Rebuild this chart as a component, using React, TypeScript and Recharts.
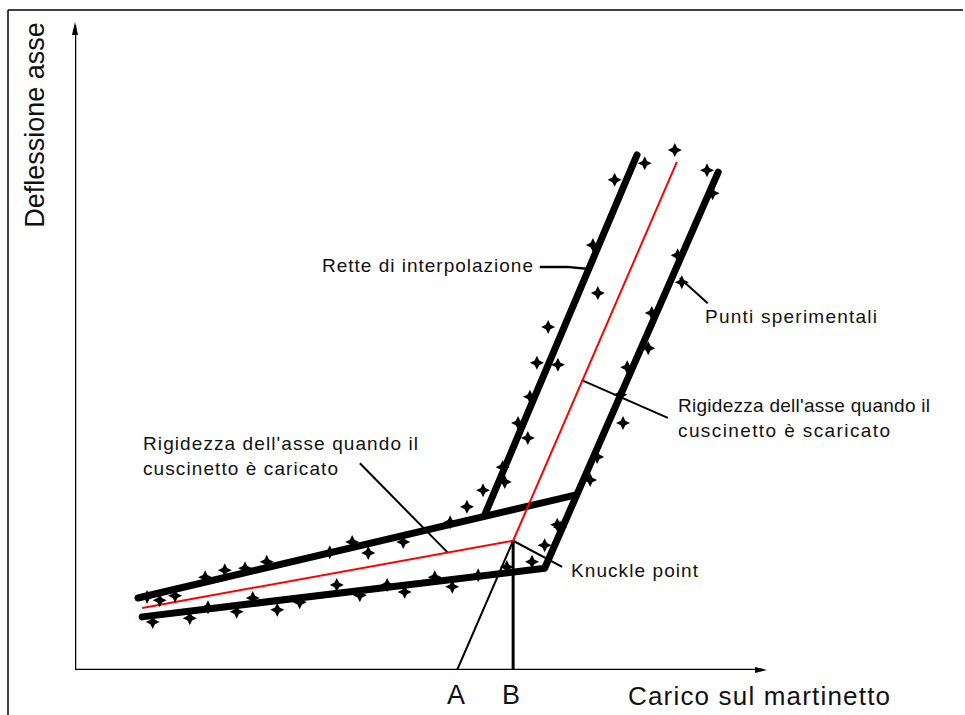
import { ComposedChart, Line, Scatter, XAxis, YAxis, Customized } from "recharts";

// load on the jack (x) vs shaft deflection (y), arbitrary units
const X_MAX = 98.3;
const Y_MAX = 100.8;

const upperBranch = [
  { x: 9.0, y: 11.25 },
  { x: 71.3, y: 27.3 },
];
const upperSteep = [
  { x: 58.6, y: 24.4 },
  { x: 80.3, y: 80.5 },
];
const lowerBranch = [
  { x: 9.6, y: 8.3 },
  { x: 67.1, y: 15.9 },
  { x: 91.9, y: 77.8 },
];
const meanLine = [
  { x: 9.6, y: 9.7 },
  { x: 62.6, y: 20.2 },
  { x: 86.0, y: 79.4 },
];
const lineA = [
  { x: 62.6, y: 20.2 },
  { x: 54.6, y: 0 },
];
const lineB = [
  { x: 62.6, y: 20.2 },
  { x: 62.6, y: 0 },
];
const xAxisLine = [
  { x: 0, y: 0 },
  { x: X_MAX, y: 0 },
];
const yAxisLine = [
  { x: 0, y: 0 },
  { x: 0, y: Y_MAX },
];

// leaders from the notes to the lines
const knuckleLeader = [
  { x: 62.6, y: 20.2 },
  { x: 69.6, y: 16.1 },
];
const caricatoLeader = [
  { x: 40.7, y: 32.3 },
  { x: 53.3, y: 18.3 },
];
const interpLeader = [
  { x: 66.4, y: 63.0 },
  { x: 70.3, y: 63.0 },
  { x: 73.1, y: 62.7 },
];
const puntiLeader = [
  { x: 86.4, y: 61.25 },
  { x: 90.4, y: 57.3 },
];
const scaricatoLeader = [
  { x: 72.4, y: 45.3 },
  { x: 84.7, y: 39.4 },
];

// experimental points
const upperPts = [
  { x: 10.3, y: 11.4 }, { x: 12.1, y: 10.9 }, { x: 14.3, y: 11.6 },
  { x: 18.6, y: 14.5 }, { x: 21.4, y: 15.6 }, { x: 24.3, y: 15.9 },
  { x: 27.4, y: 16.9 }, { x: 36.4, y: 18.4 }, { x: 39.6, y: 20.0 },
  { x: 41.9, y: 18.3 }, { x: 46.9, y: 20.0 }, { x: 53.6, y: 23.1 },
  { x: 56.0, y: 25.5 }, { x: 58.3, y: 28.1 }, { x: 61.4, y: 29.4 },
];
const lowerPts = [
  { x: 11.1, y: 7.5 }, { x: 16.4, y: 8.1 }, { x: 19.0, y: 9.8 },
  { x: 23.1, y: 9.1 }, { x: 25.4, y: 11.25 }, { x: 28.9, y: 9.4 },
  { x: 32.1, y: 10.6 }, { x: 37.4, y: 13.3 }, { x: 40.7, y: 11.7 },
  { x: 44.6, y: 13.3 }, { x: 47.1, y: 12.2 }, { x: 51.4, y: 14.5 },
  { x: 53.9, y: 13.0 }, { x: 57.6, y: 14.8 }, { x: 61.7, y: 16.1 },
  { x: 65.3, y: 16.9 }, { x: 67.1, y: 19.5 }, { x: 68.9, y: 22.7 },
];
const steepLeftPts = [
  { x: 81.4, y: 79.2 }, { x: 77.1, y: 76.6 }, { x: 74.0, y: 66.4 },
  { x: 74.7, y: 58.9 }, { x: 67.6, y: 53.6 }, { x: 66.0, y: 48.0 },
  { x: 69.0, y: 47.7 }, { x: 65.0, y: 42.7 }, { x: 63.3, y: 38.6 },
  { x: 64.7, y: 36.25 }, { x: 61.1, y: 31.7 },
];
const steepRightPts = [
  { x: 85.7, y: 81.25 }, { x: 90.3, y: 78.1 }, { x: 91.1, y: 74.5 },
  { x: 86.1, y: 64.8 }, { x: 86.7, y: 60.6 }, { x: 82.4, y: 55.8 },
  { x: 81.9, y: 50.3 }, { x: 78.9, y: 47.3 }, { x: 77.9, y: 43.0 },
  { x: 78.3, y: 38.6 }, { x: 74.6, y: 33.3 }, { x: 73.6, y: 29.7 },
  { x: 69.3, y: 22.3 },
];

const FONT = "'Liberation Sans', Arial, sans-serif";

const Star = (props: any) => {
  const { cx, cy } = props;
  const r = 7;
  const s = 2.3;
  const d = `M${cx},${cy - r} L${cx + s},${cy - s} L${cx + r},${cy} L${cx + s},${cy + s} L${cx},${cy + r} L${cx - s},${cy + s} L${cx - r},${cy} L${cx - s},${cy - s} Z`;
  return <path d={d} fill="#000" />;
};

const Notes = () => (
  <g fontFamily={FONT} fill="#111">
    <line x1={8} y1={10} x2={963} y2={10} stroke="#000" strokeWidth={1.5} />
    <line x1={8} y1={10} x2={8} y2={715} stroke="#000" strokeWidth={1.5} />
    <polygon points="755,667 767,670 755,673" fill="#000" />
    <polygon points="72,35 75,22 78,35" fill="#000" />
    <text x={35} y={125} fontSize={27} textAnchor="middle" transform="rotate(-90 35 125)" dominantBaseline="central">
      Deflessione asse
    </text>
    <text x={628} y={705} fontSize={26} textLength={262} lengthAdjust="spacing">Carico sul martinetto</text>
    <text x={456} y={704} fontSize={27} textAnchor="middle">A</text>
    <text x={511} y={704} fontSize={27} textAnchor="middle">B</text>
    <text x={322} y={272} fontSize={19} textLength={211} lengthAdjust="spacing">Rette di interpolazione</text>
    <text x={705} y={323} fontSize={19} textLength={172} lengthAdjust="spacing">Punti sperimentali</text>
    <text x={678} y={412} fontSize={19} textLength={252} lengthAdjust="spacing">Rigidezza dell'asse quando il</text>
    <text x={678} y={437} fontSize={19} textLength={212} lengthAdjust="spacing">cuscinetto è scaricato</text>
    <text x={143} y={450} fontSize={19} textLength={275} lengthAdjust="spacing">Rigidezza dell'asse quando il</text>
    <text x={143} y={475} fontSize={19} textLength={195} lengthAdjust="spacing">cuscinetto è caricato</text>
    <text x={571} y={577} fontSize={19} textLength={127} lengthAdjust="spacing">Knuckle point</text>
  </g>
);

const thick = {
  stroke: "#000",
  strokeWidth: 7,
  strokeLinecap: "round" as const,
  strokeLinejoin: "round" as const,
};

export default function App() {
  return (
    <div style={{ position: "absolute", left: 0, top: 0, background: "#fff" }}>
      <ComposedChart
        width={965}
        height={715}
        margin={{ top: 25, right: 202, bottom: 45, left: 75 }}
      >
        <XAxis type="number" dataKey="x" domain={[0, X_MAX]} allowDataOverflow hide />
        <YAxis type="number" dataKey="y" domain={[0, Y_MAX]} allowDataOverflow hide />
        <Line data={xAxisLine} dataKey="y" type="linear" dot={false} activeDot={false} isAnimationActive={false} stroke="#000" strokeWidth={2.5} />
        <Line data={yAxisLine} dataKey="y" type="linear" dot={false} activeDot={false} isAnimationActive={false} stroke="#000" strokeWidth={2.5} />
        <Line data={upperBranch} dataKey="y" type="linear" dot={false} activeDot={false} isAnimationActive={false} {...thick} />
        <Line data={upperSteep} dataKey="y" type="linear" dot={false} activeDot={false} isAnimationActive={false} {...thick} />
        <Line data={lowerBranch} dataKey="y" type="linear" dot={false} activeDot={false} isAnimationActive={false} {...thick} />
        <Line data={lineA} dataKey="y" type="linear" dot={false} activeDot={false} isAnimationActive={false} stroke="#000" strokeWidth={2} />
        <Line data={lineB} dataKey="y" type="linear" dot={false} activeDot={false} isAnimationActive={false} stroke="#000" strokeWidth={3} />
        <Line data={knuckleLeader} dataKey="y" type="linear" dot={false} activeDot={false} isAnimationActive={false} stroke="#000" strokeWidth={2} />
        <Line data={caricatoLeader} dataKey="y" type="linear" dot={false} activeDot={false} isAnimationActive={false} stroke="#000" strokeWidth={2} />
        <Line data={interpLeader} dataKey="y" type="linear" dot={false} activeDot={false} isAnimationActive={false} stroke="#000" strokeWidth={2.5} />
        <Line data={puntiLeader} dataKey="y" type="linear" dot={false} activeDot={false} isAnimationActive={false} stroke="#000" strokeWidth={2} />
        <Line data={scaricatoLeader} dataKey="y" type="linear" dot={false} activeDot={false} isAnimationActive={false} stroke="#000" strokeWidth={2} />
        <Line data={meanLine} dataKey="y" type="linear" dot={false} activeDot={false} isAnimationActive={false} stroke="#ff0000" strokeWidth={2} />
        <Scatter data={upperPts} dataKey="y" shape={Star} isAnimationActive={false} />
        <Scatter data={lowerPts} dataKey="y" shape={Star} isAnimationActive={false} />
        <Scatter data={steepLeftPts} dataKey="y" shape={Star} isAnimationActive={false} />
        <Scatter data={steepRightPts} dataKey="y" shape={Star} isAnimationActive={false} />
        <Customized component={Notes} />
      </ComposedChart>
    </div>
  );
}
